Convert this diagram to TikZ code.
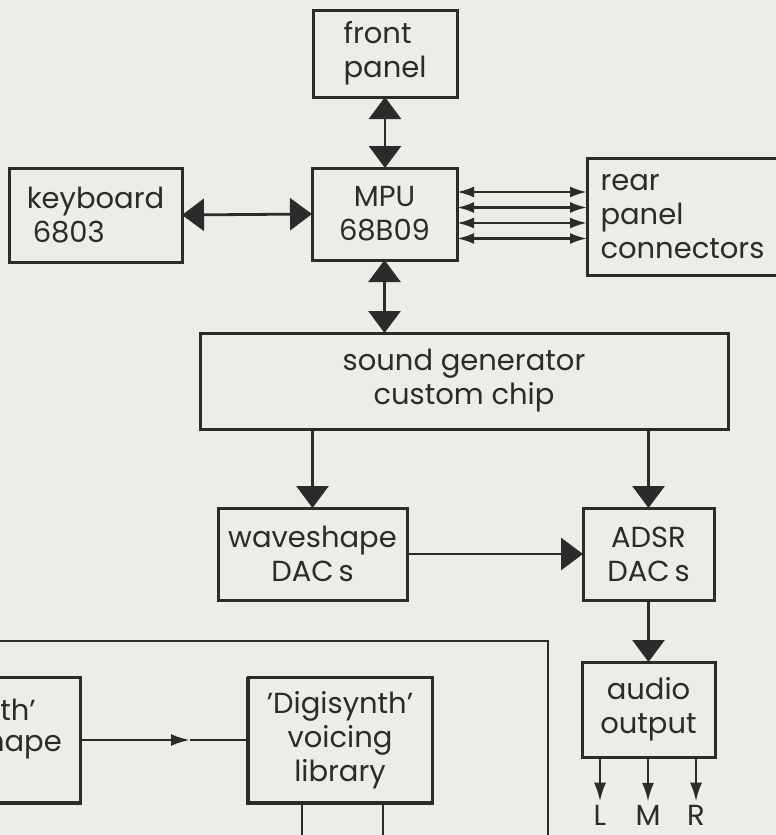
\documentclass[tikz,border=0pt]{standalone}
\usepackage{fontspec}
\setmainfont{Poppins}
\usetikzlibrary{arrows.meta,calc}
\definecolor{paper}{HTML}{ECEDE6}
\definecolor{ink}{HTML}{2B2B2B}
\begin{document}
\begin{tikzpicture}[x=1pt,y=-1pt,
  box/.style={draw=ink, line width=3pt, inner sep=0pt, outer sep=0pt, text=ink,
    font=\fontsize{29}{34}\selectfont},
  lbl/.style={text=ink, inner sep=3pt, font=\fontsize{29}{34}\selectfont},
  conn/.style={draw=ink, line width=2.8pt},
  bigboth/.style={{Triangle[length=22pt,width=32pt]}-{Triangle[length=22pt,width=32pt]}},
  bigto/.style={-{Triangle[length=22pt,width=32pt]}},
  smallboth/.style={{Latex[length=17pt,width=11pt]}-{Latex[length=17pt,width=11pt]}},
  smallto/.style={-{Latex[length=19pt,width=12pt]}}]
\useasboundingbox (0,0) rectangle (776,835);
\fill[paper] (0,0) rectangle (776,835);
\clip (0,0) rectangle (776,835);

% boxes
\node[box, minimum width=144pt, minimum height=87pt, align=left] (front) at (385,53.5) {front\\panel};
\node[box, minimum width=173pt, minimum height=94pt, align=left] (kbd) at (95.5,215) {keyboard\\\hspace{6pt}6803};
\node[box, minimum width=145pt, minimum height=92pt, align=center] (mpu) at (384.5,214) {MPU\\68B09};
\node[box, minimum width=195pt, minimum height=117pt, text width=168pt, align=left] (rear) at (684.5,216.5) {rear\\panel\\connectors};
\node[box, minimum width=528pt, minimum height=96pt, align=center] (sound) at (464,381) {sound generator\\custom chip};
\node[box, minimum width=189pt, minimum height=92pt, align=center] (wave) at (312.5,554) {waveshape\\DAC\,s};
\node[box, minimum width=131pt, minimum height=92pt, align=center] (adsr) at (648.5,554) {ADSR\\DAC\,s};
\node[box, minimum width=133pt, minimum height=95pt, align=center] (audio) at (648.5,709.5) {audio\\output};
\node[box, minimum width=184pt, minimum height=126pt, align=center] (voice) at (340,740) {'Digisynth'\\voicing\\library};
\draw[ink, line width=4.5pt] (voice.north west) -- (voice.south west) -- (voice.south east);
\node[box, minimum width=180pt, minimum height=126pt] (cut) at (-10,740) {};
\draw[ink, line width=4.5pt] (cut.south west) -- (cut.south east);
\node[lbl, anchor=base east, inner sep=0pt] (cuta) at (36,720) {'Digisynth'};
\node[lbl, anchor=base east, inner sep=0pt] (cutb) at (62,751) {waveshape};

% outer frame
\coordinate (fl) at (-10,641);
\coordinate (fc) at (548,641);
\coordinate (fb) at (548,845);
\draw[conn] (fl) -- (fc) -- (fb);

% output labels
\node[lbl] (L) at (600,815) {L};
\node[lbl] (M) at (648,815) {M};
\node[lbl] (R) at (696,815) {R};

% connectors
\draw[conn, bigboth] (front.south) -- (mpu.north -| front.south);
\draw[conn, bigboth] (kbd.east) -- (mpu.west);
\draw[conn, bigboth] (mpu.south) -- (sound.north -| mpu.south);
\foreach \s in {22,6.5,-9,-24.5}
  \draw[conn, line width=2.6pt, smallboth] ([yshift=\s pt]mpu.east) -- ([yshift=\s pt]mpu.east -| rear.west);
\draw[conn, bigto] (sound.south -| wave.north) -- (wave.north);
\draw[conn, bigto] (sound.south -| adsr.north) -- (adsr.north);
\draw[conn, bigto] (wave.east) -- (adsr.west);
\draw[conn, bigto] (adsr.south) -- (audio.north);
\draw[conn, smallto] (audio.south -| L.north) -- (L.north);
\draw[conn, smallto] (audio.south -| M.north) -- (M.north);
\draw[conn, smallto] (audio.south -| R.north) -- (R.north);
\coordinate (mid) at (190,740);
\draw[conn, smallto] (cut.east) -- (mid);
\draw[conn] (mid) -- (voice.west);
\coordinate (d1) at (302,845);
\coordinate (d2) at (383,845);
\draw[conn] (voice.south -| d1) -- (d1);
\draw[conn] (voice.south -| d2) -- (d2);
\end{tikzpicture}
\end{document}
